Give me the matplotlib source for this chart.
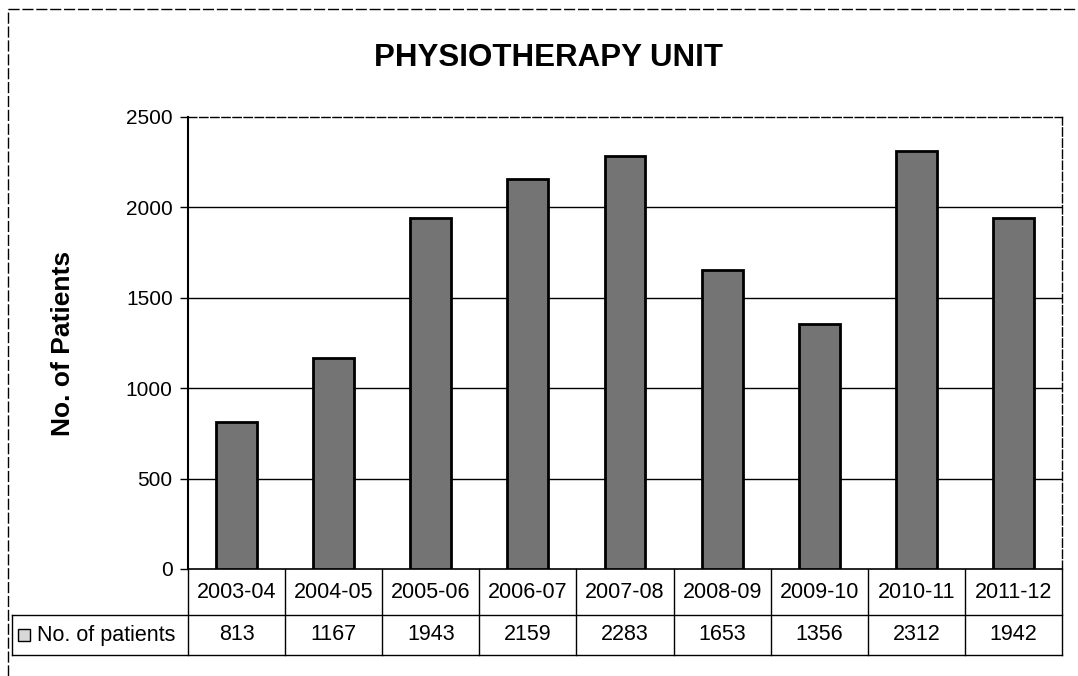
import matplotlib.pyplot as plt
from matplotlib.lines import Line2D
from matplotlib.patches import Rectangle

plt.rcParams['font.family'] = ['Liberation Sans', 'DejaVu Sans']

years = ['2003-04', '2004-05', '2005-06', '2006-07', '2007-08',
         '2008-09', '2009-10', '2010-11', '2011-12']
patients = [813, 1167, 1943, 2159, 2283, 1653, 1356, 2312, 1942]
series_name = 'No. of patients'
yticks = [0, 500, 1000, 1500, 2000, 2500]

W, H = 1078, 676
fig = plt.figure(figsize=(W / 100, H / 100), dpi=100)

# plot area (pixel box from the reference)
left, right, top, bottom = 188, 1062, 117, 569
ax = fig.add_axes([left / W, 1 - bottom / H, (right - left) / W, (bottom - top) / H])

x = range(len(years))
ax.bar(x, patients, width=0.42, color='#747474', edgecolor='black', linewidth=2, zorder=3)

ax.set_xlim(-0.5, len(years) - 0.5)
ax.set_ylim(0, 2500)
ax.set_yticks(yticks)
ax.set_yticklabels([str(v) for v in yticks], fontsize=15)
ax.tick_params(axis='y', length=6, width=1, direction='out', pad=5)
ax.set_xticks([])

for v in yticks[1:-1]:
    ax.axhline(v, color='black', linewidth=1, zorder=1)

ax.spines['left'].set_linewidth(1.5)
ax.spines['bottom'].set_linewidth(1.2)
for s in ['top', 'right']:
    ax.spines[s].set_linestyle((0, (6, 2)))
    ax.spines[s].set_linewidth(1)

ax.set_ylabel('No. of Patients', fontsize=19, fontweight='bold')
ax.yaxis.set_label_coords((75 - left) / (right - left), 0.5)

# data table under the axis
h = bottom - top
r1 = -(615 - bottom) / h
r2 = -(655 - bottom) / h
lab_left = (12 - left) / (right - left)
n = len(years)
tk = dict(transform=ax.transAxes, color='black', linewidth=1, clip_on=False)
for i in range(n + 1):
    ax.add_line(Line2D([i / n, i / n], [0, r2], **tk))
ax.add_line(Line2D([lab_left, 1], [r1, r1], **tk))
ax.add_line(Line2D([lab_left, 1], [r2, r2], **tk))
ax.add_line(Line2D([lab_left, lab_left], [r1, r2], **tk))
for i in range(n):
    xc = (i + 0.5) / n
    ax.text(xc, r1 / 2, years[i], transform=ax.transAxes, ha='center', va='center', fontsize=15.5)
    ax.text(xc, (r1 + r2) / 2, str(patients[i]), transform=ax.transAxes, ha='center', va='center', fontsize=15.5)

# legend key + row label
key_w = 12 / (right - left)
key_h = 12 / h
ax.add_patch(Rectangle((lab_left + 6 / (right - left), (r1 + r2) / 2 - key_h / 2), key_w, key_h,
                       transform=ax.transAxes, facecolor='#d8d8d8', edgecolor='black',
                       linewidth=1, clip_on=False))
ax.text(lab_left + 25 / (right - left), (r1 + r2) / 2, series_name, transform=ax.transAxes,
        ha='left', va='center', fontsize=15.5)

fig.text(548 / W, 1 - 58 / H, 'PHYSIOTHERAPY UNIT', ha='center', va='center',
         fontsize=22.5, fontweight='bold')

# outer chart frame (scan edges)
fig.add_artist(Line2D([8 / W, 8 / W], [0, 1 - 9 / H], transform=fig.transFigure,
                      color='black', linewidth=1, linestyle=(0, (8, 2))))
fig.add_artist(Line2D([8 / W, 1], [1 - 9 / H, 1 - 9 / H], transform=fig.transFigure,
                      color='black', linewidth=1, linestyle=(0, (8, 2))))

fig.savefig('out.png', dpi=100)
